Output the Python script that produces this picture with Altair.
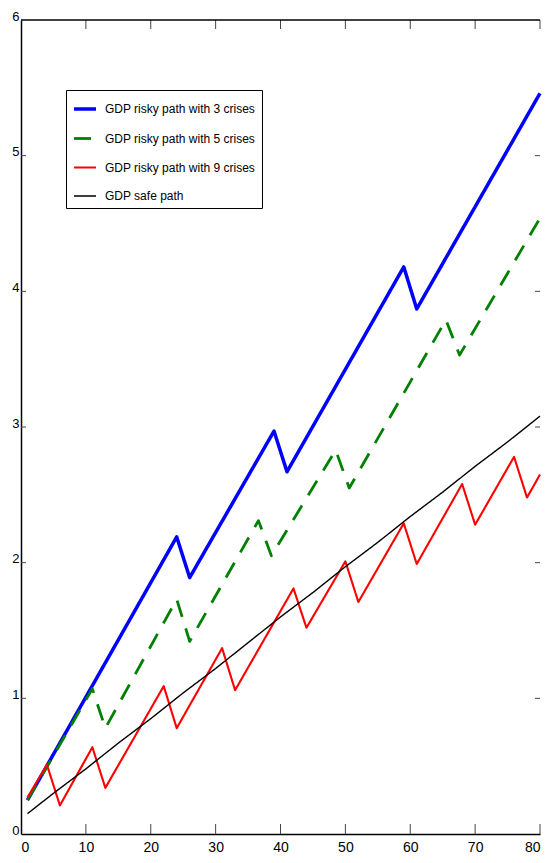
import altair as alt
import pandas as pd

names = ["GDP risky path with 3 crises", "GDP risky path with 5 crises",
         "GDP risky path with 9 crises", "GDP safe path"]
colors = ["#0000FF", "#008000", "#FF0000", "#000000"]
widths = [3.5, 1.4, 1.4, 1.4]
dashes = [[1, 0], [17, 12], [1, 0], [1, 0]]

blue_x = [1, 24, 26, 39, 41, 59, 61, 80]
blue_y = [0.25, 2.19, 1.89, 2.97, 2.67, 4.18, 3.87, 5.46]

green_x = [1, 11, 13, 24, 26, 36.6, 38.6, 48.5, 50.6, 65.5, 67.6, 80]
green_y = [0.25, 1.07, 0.78, 1.73, 1.42, 2.31, 2.05, 2.83, 2.55, 3.79, 3.53, 4.54]

red_x = [1, 4, 6, 11, 13, 22, 24, 31, 33, 42, 44, 50, 52, 59, 61, 68, 70, 76, 78, 80]
red_y = [0.27, 0.51, 0.21, 0.64, 0.34, 1.09, 0.78, 1.37, 1.06, 1.81, 1.52, 2.01,
         1.71, 2.29, 1.99, 2.58, 2.28, 2.78, 2.48, 2.65]

safe_x = [1, 5, 10, 15, 20, 25, 30, 35, 40, 45, 50, 55, 60, 65, 70, 75, 80]
safe_y = [0.15, 0.30, 0.48, 0.67, 0.85, 1.04, 1.22, 1.41, 1.60, 1.78, 1.97, 2.15,
          2.34, 2.52, 2.71, 2.89, 3.08]

x_ticks = [0, 10, 20, 30, 40, 50, 60, 70, 80]
y_ticks = [0, 1, 2, 3, 4, 5, 6]

rows = []
for name, xs, ys in zip(names, [blue_x, green_x, red_x, safe_x], [blue_y, green_y, red_y, safe_y]):
    for i, (a, b) in enumerate(zip(xs, ys)):
        rows.append({"series": name, "x": a, "y": b, "i": i})
df = pd.DataFrame(rows)

W, H = 519, 814
FONT = "Liberation Sans"

x_enc = alt.X("x:Q", scale=alt.Scale(domain=[0, 80], nice=False),
              axis=alt.Axis(values=x_ticks, ticks=False, tickSize=0, labelPadding=6,
                            domainColor="black", domainWidth=1.5, grid=False, title=None,
                            labelFlush=True, labelFont=FONT, labelFontSize=14,
                            labelColor="black", format="d"))
y_enc = alt.Y("y:Q", scale=alt.Scale(domain=[0, 6], nice=False),
              axis=alt.Axis(values=y_ticks, ticks=False, tickSize=0, labelPadding=2,
                            domainColor="black", domainWidth=1.5, grid=False, title=None,
                            labelFlush=False, labelBaseline="alphabetic", labelFont=FONT,
                            labelFontSize=13, labelColor="black", format="d"))

lines = alt.Chart(df).mark_line(strokeJoin="round").encode(
    x=x_enc,
    y=y_enc,
    color=alt.Color("series:N", scale=alt.Scale(domain=names, range=colors), sort=names, title=None),
    strokeWidth=alt.StrokeWidth("series:N", scale=alt.Scale(domain=names, range=widths), sort=names, title=None),
    strokeDash=alt.StrokeDash("series:N", scale=alt.Scale(domain=names, range=dashes), sort=names, title=None),
    order="i:Q",
)

xt = pd.DataFrame({"x": x_ticks[1:]})
yt = pd.DataFrame({"y": y_ticks[1:-1]})

bottom_ticks = alt.Chart(xt).mark_rule(color="#444", strokeWidth=1).encode(
    x="x:Q", y=alt.value(H), y2=alt.value(H - 10))
top_ticks = alt.Chart(xt).mark_rule(color="#444", strokeWidth=1).encode(
    x="x:Q", y=alt.value(0), y2=alt.value(9))
left_ticks = alt.Chart(yt).mark_rule(color="#444", strokeWidth=1).encode(
    y="y:Q", x=alt.value(0), x2=alt.value(5))
right_ticks = alt.Chart(yt).mark_rule(color="#444", strokeWidth=1).encode(
    y="y:Q", x=alt.value(W), x2=alt.value(W - 5))
top_spine = alt.Chart(pd.DataFrame({"a": [0]})).mark_rule(color="black", strokeWidth=1.5).encode(
    x=alt.value(0), x2=alt.value(W), y=alt.value(0))

chart = alt.layer(lines, bottom_ticks, top_ticks, left_ticks, right_ticks, top_spine).properties(
    width=W, height=H,
    autosize=alt.AutoSizeParams(type="none"),
    padding={"left": 13, "top": 12, "right": 2, "bottom": 20},
).configure_view(strokeWidth=0).configure_legend(
    orient="none", legendX=45, legendY=70, strokeColor="black", fillColor="white",
    padding=6, symbolType="stroke", symbolSize=484, rowPadding=10,
    labelFont=FONT, labelFontSize=12, labelOffset=7, labelLimit=300, labelColor="black",
)

chart.save("out.html", embed_options={"renderer": "svg", "actions": False})
